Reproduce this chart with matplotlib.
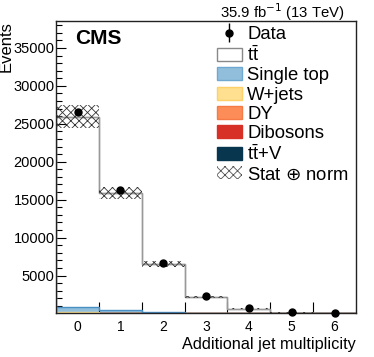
import numpy as np
import matplotlib
matplotlib.use('Agg')
import matplotlib.pyplot as plt
from matplotlib.patches import Patch

plt.rcParams['font.family'] = ['Liberation Sans', 'DejaVu Sans']
plt.rcParams['hatch.linewidth'] = 0.6

# Bin labels (additional jet multiplicity)
nbins = ['0', '1', '2', '3', '4', '5', '6']

# Stacked MC contributions (events per bin)
ttv = [20, 20, 15, 10, 5, 2, 1]
dibosons = [30, 15, 6, 2, 1, 0.3, 0.1]
dy = [60, 30, 15, 6, 2, 0.5, 0.1]
wjets = [20, 10, 5, 2, 1, 0.2, 0.1]
single_top = [700, 430, 170, 60, 20, 5, 1]
mc_total = [25950, 15900, 6560, 2200, 640, 120, 30]

# Data points
data = [26500, 16250, 6630, 2280, 680, 130, 30]

# relative stat (+) norm uncertainty
rel_unc = [0.058, 0.052, 0.057, 0.055, 0.055, 0.055, 0.055]

others = np.array(ttv) + np.array(dibosons) + np.array(dy) + np.array(wjets) + np.array(single_top)
ttbar = np.array(mc_total) - others

x = np.arange(len(nbins))
edges = np.arange(len(nbins) + 1) - 0.5

fig = plt.figure(figsize=(3.74, 3.57), dpi=100)
ax = fig.add_axes([0.150, 0.122, 0.802, 0.818])

stack = [
    (ttv, '#08364f', '#08364f'),
    (dibosons, '#d73027', '#d73027'),
    (dy, '#fc8d59', '#fc8d59'),
    (wjets, '#fee090', '#fee090'),
    (single_top, '#91bfdb', '#4a8fc4'),
    (ttbar, 'white', '#999999'),
]
bottom = np.zeros(len(nbins))
for vals, fc, ec in stack:
    vals = np.array(vals, dtype=float)
    ax.bar(x, vals, width=1.0, bottom=bottom, color=fc, edgecolor='none', zorder=1)
    top = bottom + vals
    ax.stairs(top, edges, color=ec, linewidth=1.0, zorder=2)
    bottom = top

# vertical connecting lines of the total
ax.stairs(np.array(mc_total), edges, color='#999999', linewidth=1.0, zorder=2)

# Uncertainty band
tot = np.array(mc_total, dtype=float)
unc = tot * np.array(rel_unc)
ax.bar(x, 2 * unc, width=1.0, bottom=tot - unc, color='none', edgecolor='#333333',
       hatch='xxxx', linewidth=0, zorder=3)

# Data
data_h = ax.errorbar(x, data, yerr=np.sqrt(data), fmt='o', color='black', markersize=5,
                     elinewidth=1, capsize=0, zorder=5, clip_on=False)

ax.set_xlim(-0.5, 6.5)
ax.set_ylim(0, 38500)

ax.set_xticks(edges[1:-1])
ax.set_xticklabels([])
ax.set_xticks(x, minor=True)
ax.set_xticklabels(nbins, minor=True, fontsize=10)
ax.tick_params(axis='x', which='major', direction='in', length=8, width=0.8)
ax.tick_params(axis='x', which='minor', length=0, pad=5)

ax.set_yticks(np.arange(5000, 38000, 5000))
ax.set_yticks(np.arange(1000, 38500, 1000), minor=True)
ax.tick_params(axis='y', which='major', direction='in', length=7, width=0.8, labelsize=10.5, pad=1)
ax.tick_params(axis='y', which='minor', direction='in', length=4, width=0.8)
for s in ax.spines.values():
    s.set_linewidth(1.0)
    s.set_color('#222222')

ax.set_xlabel('Additional jet multiplicity', fontsize=11.7, loc='right', labelpad=2)
ax.set_ylabel('Events', fontsize=12, loc='top', labelpad=2)
ax.yaxis.set_label_coords(-0.14, 1.0)

ax.text(0.063, 0.94, 'CMS', transform=ax.transAxes, fontsize=15, fontweight='bold',
        va='center', ha='left')
fig.text(345 / 374, 1 - 12 / 357, r'35.9 fb$^{-1}$ (13 TeV)', fontsize=10.7,
         ha='right', va='center')

handles = [
    data_h,
    Patch(facecolor='white', edgecolor='#888888'),
    Patch(facecolor='#91bfdb', edgecolor='#6fa8d0'),
    Patch(facecolor='#fee090', edgecolor='#fdd06a'),
    Patch(facecolor='#fc8d59', edgecolor='#f57a45'),
    Patch(facecolor='#d73027', edgecolor='#d73027'),
    Patch(facecolor='#08364f', edgecolor='#08364f'),
    Patch(facecolor='white', edgecolor='#555555', hatch='xxxx', linewidth=0),
]
labels = ['Data', r'$\mathregular{t\bar{t}}$', 'Single top', 'W+jets', 'DY', 'Dibosons',
          r'$\mathregular{t\bar{t}}$+V', r'Stat $\oplus$ norm']
leg = ax.legend(handles, labels, loc='upper left', bbox_to_anchor=(0.53, 0.99),
                frameon=False, fontsize=13.3, handlelength=1.35, handleheight=0.7,
                handletextpad=0.3, labelspacing=0.125, borderpad=0.1, borderaxespad=0)

fig.savefig('out.png', dpi=100)
